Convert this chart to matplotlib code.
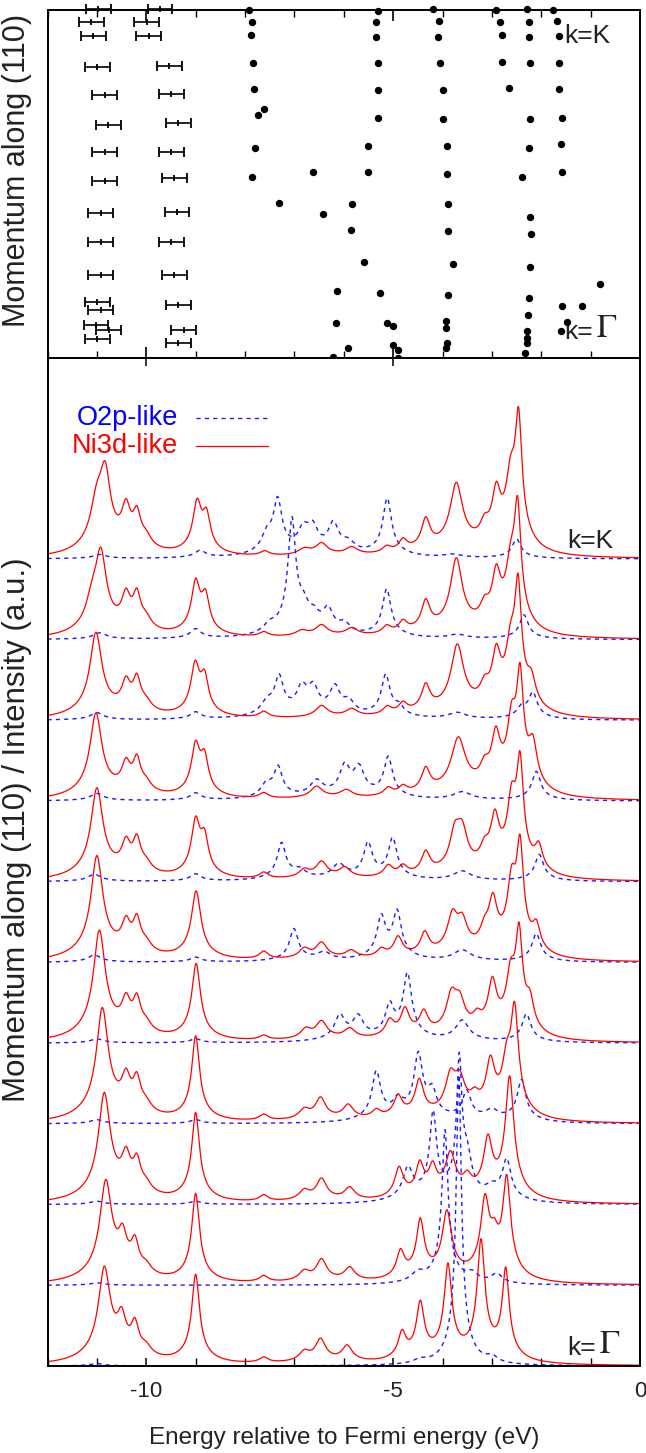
import numpy as np
import matplotlib
matplotlib.use("Agg")
import matplotlib.pyplot as plt
from matplotlib.ticker import MultipleLocator

plt.rcParams['font.family'] = ['Liberation Sans', 'DejaVu Sans']
plt.rcParams['mathtext.fontset'] = 'stix'

# ---------------- top panel: experimental band positions ----------------
# error-bar points (energy eV, momentum fraction Gamma=0 .. K=1)
err_left_E = [-10.97, -11.11, -11.07, -10.99, -10.84, -10.77, -10.84, -10.84, -10.92, -10.92,
              -10.92, -10.99, -10.92, -11.02, -10.76, -10.99]
err_left_k = [1.002, 0.966, 0.926, 0.837, 0.756, 0.670, 0.591, 0.509, 0.416, 0.332,
              0.238, 0.162, 0.138, 0.095, 0.080, 0.055]
err_right_E = [-9.72, -9.99, -9.95, -9.53, -9.49, -9.35, -9.49, -9.43, -9.38, -9.49,
               -9.43, -9.35, -9.24, -9.35]
err_right_k = [1.002, 0.966, 0.925, 0.840, 0.758, 0.674, 0.591, 0.518, 0.420, 0.332,
               0.238, 0.152, 0.080, 0.042]
err_halfwidth = 0.25

dots_E = [-7.91, -7.86, -7.88, -7.83, -7.81, -7.74, -7.62, -7.79, -7.86,
          -6.63, -7.31, -6.43, -5.83, -5.86, -5.59, -6.13, -5.26, -6.15, -5.12, -5.01,
          -5.92, -6.21, -5.01, -4.90, -4.90,
          -5.30, -5.35, -5.35, -5.30, -5.30, -5.30, -5.51, -5.51,
          -4.20, -4.07, -4.09, -4.06, -3.99, -3.99, -3.91, -3.91, -3.88, -3.88, -3.79,
          -3.88, -3.92, -3.92, -3.91, -3.92,
          -2.91, -2.84, -2.79, -2.79, -2.66,
          -2.29, -2.25, -2.25, -2.22, -2.22, -2.25, -2.40, -2.23, -2.20, -2.23, -2.25,
          -2.27, -2.29, -2.29, -2.29, -2.33,
          -1.76, -1.69, -1.65, -1.65, -1.65, -1.58, -1.61, -1.58, -0.82, -1.58, -1.17,
          -1.48, -1.61]
dots_k = [1.000, 0.965, 0.927, 0.849, 0.772, 0.697, 0.716, 0.603, 0.521,
          0.534, 0.445, 0.414, 0.443, 0.367, 0.276, 0.193, 0.188, 0.100, 0.100, 0.093,
          0.030, 0.002, 0.036, 0.024, -0.001,
          0.998, 0.965, 0.923, 0.849, 0.769, 0.691, 0.609, 0.534,
          1.002, 0.968, 0.923, 0.849, 0.769, 0.688, 0.609, 0.528, 0.443, 0.364, 0.269,
          0.182, 0.106, 0.085, 0.044, 0.028,
          1.000, 0.965, 0.927, 0.851, 0.775,
          1.002, 0.965, 0.922, 0.847, 0.686, 0.603, 0.521, 0.404, 0.355, 0.262, 0.172,
          0.124, 0.078, 0.057, 0.042, 0.014,
          1.000, 0.968, 0.925, 0.849, 0.773, 0.691, 0.615, 0.534, 0.213, 0.150, 0.150,
          0.103, 0.078]

# ---------------- bottom panel: spectra (index 0 = Gamma ... 10 = K) ----------------
# peaks: (energy eV, height, half width eV)
ni3d_peaks = [
    # 0  Gamma
    [(-10.85, 1.15, 0.14), (-10.50, 0.40, 0.10), (-10.23, 0.36, 0.09), (-10.0, 0.10, 0.12),
     (-9.00, 1.10, 0.09), (-7.62, 0.07, 0.10), (-6.80, 0.12, 0.12), (-6.47, 0.28, 0.12),
     (-5.93, 0.20, 0.12), (-4.82, 0.32, 0.09), (-4.45, 0.68, 0.09), (-3.89, 1.15, 0.09),
     (-3.22, 1.45, 0.09), (-2.72, 1.10, 0.08)],
    # 1
    [(-10.82, 1.22, 0.14), (-10.48, 0.40, 0.10), (-10.23, 0.36, 0.09), (-10.0, 0.10, 0.12),
     (-9.00, 1.10, 0.09), (-7.62, 0.08, 0.10), (-6.80, 0.12, 0.12), (-6.45, 0.27, 0.12),
     (-5.88, 0.17, 0.12), (-4.85, 0.33, 0.09), (-4.45, 0.70, 0.09), (-3.91, 0.82, 0.11),
     (-3.14, 0.90, 0.10), (-2.95, 0.30, 0.09), (-2.70, 1.20, 0.09)],
    # 2
    [(-10.85, 1.32, 0.14), (-10.41, 0.40, 0.10), (-10.19, 0.36, 0.09), (-10.0, 0.10, 0.12),
     (-9.00, 1.10, 0.09), (-7.62, 0.08, 0.10), (-6.80, 0.12, 0.12), (-6.45, 0.27, 0.12),
     (-5.88, 0.16, 0.12), (-4.88, 0.38, 0.10), (-4.46, 0.38, 0.09), (-4.20, 0.32, 0.09),
     (-3.84, 0.52, 0.12), (-3.50, 0.18, 0.10), (-3.08, 0.66, 0.10), (-2.64, 1.50, 0.10)],
    # 3
    [(-10.89, 1.38, 0.14), (-10.41, 0.38, 0.10), (-10.19, 0.38, 0.09), (-10.0, 0.10, 0.12),
     (-9.00, 1.05, 0.09), (-7.62, 0.08, 0.10), (-6.80, 0.12, 0.12), (-6.47, 0.27, 0.12),
     (-5.91, 0.18, 0.12), (-5.34, 0.10, 0.10), (-4.90, 0.26, 0.10), (-4.47, 0.45, 0.10),
     (-3.84, 0.45, 0.12), (-3.65, 0.38, 0.12), (-3.35, 0.15, 0.10), (-3.03, 0.60, 0.10),
     (-2.70, 0.50, 0.10), (-2.54, 1.25, 0.09)],
    # 4
    [(-10.95, 1.35, 0.14), (-10.41, 0.35, 0.10), (-10.19, 0.38, 0.09), (-10.0, 0.10, 0.12),
     (-8.99, 0.95, 0.10), (-7.62, 0.06, 0.10), (-6.77, 0.12, 0.12), (-6.45, 0.22, 0.13),
     (-5.88, 0.13, 0.13), (-5.07, 0.20, 0.10), (-4.76, 0.33, 0.10), (-4.38, 0.28, 0.10),
     (-3.82, 0.45, 0.12), (-3.65, 0.35, 0.12), (-3.30, 0.15, 0.10), (-2.99, 0.60, 0.10),
     (-2.62, 0.60, 0.10), (-2.45, 1.15, 0.08), (-2.23, 0.33, 0.09)],
    # 5
    [(-11.00, 1.28, 0.14), (-10.41, 0.33, 0.10), (-10.19, 0.38, 0.09), (-10.0, 0.10, 0.12),
     (-8.99, 0.85, 0.11), (-7.62, 0.10, 0.10), (-6.80, 0.12, 0.12), (-6.45, 0.20, 0.13),
     (-5.85, 0.10, 0.13), (-5.24, 0.10, 0.10), (-4.90, 0.25, 0.10), (-4.36, 0.28, 0.10),
     (-3.80, 0.45, 0.12), (-3.60, 0.35, 0.12), (-3.15, 0.20, 0.10), (-2.98, 0.58, 0.10),
     (-2.60, 0.75, 0.10), (-2.43, 1.22, 0.08), (-2.10, 0.30, 0.09)],
    # 6
    [(-11.00, 1.12, 0.14), (-10.41, 0.33, 0.10), (-10.19, 0.38, 0.09), (-10.0, 0.10, 0.12),
     (-9.00, 0.66, 0.10), (-8.82, 0.42, 0.09), (-7.62, 0.08, 0.10), (-6.80, 0.10, 0.12),
     (-6.45, 0.20, 0.13), (-5.98, 0.13, 0.13), (-5.10, 0.14, 0.10), (-4.80, 0.12, 0.10),
     (-4.34, 0.28, 0.10), (-3.75, 0.45, 0.12), (-3.60, 0.45, 0.12), (-3.15, 0.20, 0.10),
     (-2.94, 0.60, 0.10), (-2.60, 0.75, 0.10), (-2.43, 1.25, 0.08), (-2.05, 0.30, 0.09)],
    # 7
    [(-11.02, 1.05, 0.14), (-10.41, 0.32, 0.10), (-10.19, 0.38, 0.09), (-10.0, 0.10, 0.12),
     (-9.00, 0.60, 0.10), (-8.82, 0.42, 0.09), (-7.62, 0.07, 0.10), (-6.55, 0.15, 0.14),
     (-5.95, 0.10, 0.14), (-5.10, 0.10, 0.10), (-4.80, 0.10, 0.10), (-4.34, 0.30, 0.10),
     (-3.68, 0.70, 0.17), (-3.15, 0.20, 0.10), (-2.92, 0.60, 0.10), (-2.60, 0.70, 0.10),
     (-2.43, 1.28, 0.08), (-2.17, 0.50, 0.10)],
    # 8
    [(-11.02, 1.05, 0.14), (-10.41, 0.33, 0.10), (-10.19, 0.38, 0.09), (-10.0, 0.10, 0.12),
     (-9.01, 0.60, 0.10), (-8.82, 0.42, 0.09), (-7.62, 0.08, 0.10), (-6.45, 0.15, 0.14),
     (-5.84, 0.10, 0.14), (-5.12, 0.10, 0.10), (-4.80, 0.13, 0.10), (-4.34, 0.33, 0.10),
     (-3.70, 0.85, 0.15), (-3.15, 0.20, 0.10), (-2.91, 0.60, 0.10), (-2.62, 0.60, 0.11),
     (-2.47, 1.40, 0.08), (-2.20, 0.30, 0.10)],
    # 9
    [(-11.10, 0.30, 0.14), (-10.92, 0.95, 0.13), (-10.41, 0.38, 0.10), (-10.19, 0.40, 0.09),
     (-10.0, 0.12, 0.12), (-9.00, 0.62, 0.10), (-8.80, 0.42, 0.09), (-7.62, 0.06, 0.10),
     (-6.85, 0.07, 0.14), (-6.45, 0.14, 0.14), (-5.84, 0.10, 0.14), (-5.13, 0.10, 0.10),
     (-4.80, 0.14, 0.10), (-4.34, 0.37, 0.10), (-3.72, 0.92, 0.14), (-3.15, 0.20, 0.10),
     (-2.91, 0.60, 0.10), (-2.62, 0.60, 0.11), (-2.48, 1.40, 0.08)],
    # 10 K
    [(-11.00, 0.55, 0.15), (-10.83, 0.85, 0.12), (-10.41, 0.45, 0.10), (-10.19, 0.38, 0.09),
     (-10.0, 0.12, 0.12), (-8.97, 0.60, 0.10), (-8.78, 0.42, 0.09), (-7.60, 0.06, 0.10),
     (-6.80, 0.08, 0.14), (-6.45, 0.15, 0.14), (-5.84, 0.10, 0.14), (-5.13, 0.08, 0.10),
     (-4.80, 0.15, 0.10), (-4.34, 0.38, 0.10), (-3.72, 0.85, 0.15), (-3.15, 0.20, 0.10),
     (-2.91, 0.60, 0.10), (-2.62, 0.70, 0.11), (-2.46, 1.50, 0.08)],
]

o2p_peaks = [
    # 0  Gamma
    [(-11.0, 0.03, 0.15), (-4.45, 0.05, 0.15), (-3.67, 3.60, 0.06), (-3.00, 0.08, 0.12)],
    # 1
    [(-11.0, 0.03, 0.15), (-4.50, 0.12, 0.15), (-3.95, 1.90, 0.07), (-3.40, 0.10, 0.12),
     (-2.90, 0.12, 0.12)],
    # 2
    [(-11.0, 0.04, 0.15), (-9.0, 0.04, 0.12), (-4.70, 0.40, 0.12), (-4.19, 1.05, 0.08),
     (-3.66, 1.65, 0.06), (-3.50, 0.40, 0.10), (-3.00, 0.12, 0.15), (-2.70, 0.50, 0.10)],
    # 3
    [(-11.0, 0.05, 0.15), (-9.0, 0.05, 0.12), (-5.34, 0.60, 0.10), (-4.90, 0.20, 0.12),
     (-4.49, 0.78, 0.10), (-4.21, 0.30, 0.10), (-3.51, 0.35, 0.10), (-3.00, 0.12, 0.15),
     (-2.40, 0.52, 0.10)],
    # 4
    [(-11.0, 0.05, 0.15), (-9.0, 0.05, 0.12), (-6.08, 0.30, 0.12), (-5.71, 0.27, 0.12),
     (-5.07, 0.38, 0.10), (-4.71, 0.80, 0.10), (-3.60, 0.26, 0.15), (-2.30, 0.35, 0.10)],
    # 5
    [(-11.05, 0.09, 0.15), (-9.0, 0.06, 0.12), (-7.01, 0.40, 0.10), (-6.40, 0.10, 0.15),
     (-5.24, 0.50, 0.10), (-4.92, 0.57, 0.10), (-3.60, 0.14, 0.20), (-2.10, 0.35, 0.10)],
    # 6
    [(-11.05, 0.09, 0.15), (-9.0, 0.09, 0.12), (-7.26, 0.45, 0.10), (-6.90, 0.10, 0.15),
     (-6.10, 0.18, 0.15), (-5.51, 0.43, 0.10), (-5.01, 0.50, 0.10), (-3.60, 0.12, 0.20),
     (-2.04, 0.33, 0.10)],
    # 7
    [(-11.0, 0.09, 0.15), (-9.0, 0.09, 0.12), (-7.57, 0.15, 0.12), (-7.33, 0.37, 0.10),
     (-6.55, 0.20, 0.15), (-5.98, 0.36, 0.12), (-5.69, 0.33, 0.12), (-5.10, 0.50, 0.10),
     (-3.60, 0.10, 0.20), (-2.10, 0.36, 0.10)],
    # 8
    [(-11.0, 0.09, 0.15), (-9.0, 0.09, 0.12), (-7.55, 0.15, 0.15), (-7.31, 0.45, 0.10),
     (-6.85, 0.30, 0.12), (-6.62, 0.30, 0.12), (-6.18, 0.33, 0.12), (-5.90, 0.15, 0.12),
     (-5.15, 0.52, 0.10), (-4.88, 0.10, 0.10), (-3.70, 0.08, 0.20), (-2.40, 0.12, 0.10),
     (-2.17, 0.32, 0.10)],
    # 9
    [(-10.94, 0.08, 0.15), (-9.0, 0.12, 0.12), (-7.50, 0.10, 0.15), (-7.05, 1.40, 0.09),
     (-6.81, 0.22, 0.12), (-6.60, 0.15, 0.12), (-6.32, 0.28, 0.12), (-5.99, 0.12, 0.12),
     (-5.13, 0.60, 0.10), (-3.70, 0.05, 0.20), (-2.35, 0.30, 0.10)],
    # 10 K
    [(-10.94, 0.05, 0.15), (-8.91, 0.09, 0.12), (-7.56, 0.20, 0.12), (-7.34, 0.65, 0.10),
     (-6.82, 0.25, 0.12), (-6.63, 0.28, 0.12), (-6.21, 0.35, 0.12), (-5.91, 0.12, 0.15),
     (-5.12, 0.72, 0.10), (-3.80, 0.04, 0.20), (-2.50, 0.24, 0.10)],
]

energy = np.linspace(-12.0, 0.0, 2401)


def spectrum(peaks):
    s = np.zeros_like(energy)
    for e0, h, w in peaks:
        s += h * (0.85 / (1.0 + ((energy - e0) / w) ** 2)
                  + 0.15 / (1.0 + ((energy - e0) / (3.5 * w)) ** 2))
    return s


TXT = '#222222'

# ---------------- figure ----------------
W, H = 646, 1453
fig = plt.figure(figsize=(W / 100, H / 100), dpi=100)
left = 47.5 / W
width = (640 - 47.5) / W
ax_top = fig.add_axes([left, 1 - 358 / H, width, 348 / H])
ax_bot = fig.add_axes([left, 1 - 1366 / H, width, 1008 / H])

for ax in (ax_top, ax_bot):
    ax.set_xlim(-12, 0)
    for sp in ax.spines.values():
        sp.set_linewidth(1.4)
    ax.set_yticks([])
    ax.xaxis.set_major_locator(MultipleLocator(5))
    ax.xaxis.set_minor_locator(MultipleLocator(1))

# top panel
ax_top.set_ylim(0, 1)
for eE, ek in ((err_left_E, err_left_k), (err_right_E, err_right_k)):
    ax_top.errorbar(eE, ek, xerr=err_halfwidth, fmt='|', color='black',
                    ms=5, mew=1.3, elinewidth=1.2, capsize=3.5, capthick=1.2,
                    clip_on=False)
ax_top.plot(dots_E, dots_k, 'o', color='black', ms=4.3, clip_on=False, zorder=5)
ax_top.tick_params(axis='x', which='both', direction='in', top=True, bottom=True,
                   labelbottom=False)
ax_top.tick_params(axis='x', which='major', length=8, width=1.2)
ax_top.tick_params(axis='x', which='minor', length=5, width=1.0)
ax_top.set_ylabel('Momentum along (110)', fontsize=22, color=TXT)
ax_top.yaxis.set_label_coords(-0.026, 0.54)
ax_top.text(0.872, 0.925, 'k=K', transform=ax_top.transAxes, fontsize=19,
            va='center', ha='left', color=TXT)
ax_top.text(0.872, 0.075, 'k=', transform=ax_top.transAxes, fontsize=19,
            va='center', ha='left', color=TXT)
ax_top.text(0.925, 0.085, '$\\Gamma$', transform=ax_top.transAxes, fontsize=24,
            va='center', ha='left', color=TXT)

# bottom panel
n_spec = len(ni3d_peaks)
ax_bot.set_ylim(0, 12.49)
for i in range(n_spec - 1, -1, -1):
    ax_bot.plot(energy, i + spectrum(o2p_peaks[i]), color='#1a1aff', lw=1.0,
                linestyle=(0, (3, 3)))
    ax_bot.plot(energy, i + spectrum(ni3d_peaks[i]), color='#ff0000', lw=0.9)

ax_bot.tick_params(axis='x', which='both', direction='in', bottom=True, top=False,
                   labelsize=16, pad=11, labelcolor=TXT)
ax_bot.tick_params(axis='x', which='major', length=6, width=1.1, top=True)
ax_bot.tick_params(axis='x', which='minor', length=6, width=1.0)
ax_bot.set_xticks([-10, -5, 0])
ax_bot.set_xticklabels(['-10', '-5', '0'])
ax_bot.set_xlabel('Energy relative to Fermi energy (eV)', fontsize=17.5, labelpad=18,
                  color=TXT)
ax_bot.set_ylabel('Momentum along (110) / Intensity (a.u.)', fontsize=22.5, color=TXT)
ax_bot.yaxis.set_label_coords(-0.026, 0.532)
ax_bot.text(0.877, 0.8185, 'k=K', transform=ax_bot.transAxes, fontsize=19,
            va='center', ha='left', color=TXT)
ax_bot.text(0.877, 0.018, 'k=', transform=ax_bot.transAxes, fontsize=19,
            va='center', ha='left', color=TXT)
ax_bot.text(0.930, 0.021, '$\\Gamma$', transform=ax_bot.transAxes, fontsize=24,
            va='center', ha='left', color=TXT)

# legend
ax_bot.text(0.2203, 0.9405, 'O2p-like', transform=ax_bot.transAxes, fontsize=19.5,
            color='#0000ff', ha='right', va='center')
ax_bot.text(0.2203, 0.9127, 'Ni3d-like', transform=ax_bot.transAxes, fontsize=19.5,
            color='#ff0000', ha='right', va='center')
ax_bot.plot([0.2506, 0.372], [0.9405, 0.9405], transform=ax_bot.transAxes,
            color='#1a1aff', lw=1.0, linestyle=(0, (3, 3)))
ax_bot.plot([0.2506, 0.372], [0.9127, 0.9127], transform=ax_bot.transAxes,
            color='#ff0000', lw=0.9)

fig.savefig('out.png', dpi=100)
